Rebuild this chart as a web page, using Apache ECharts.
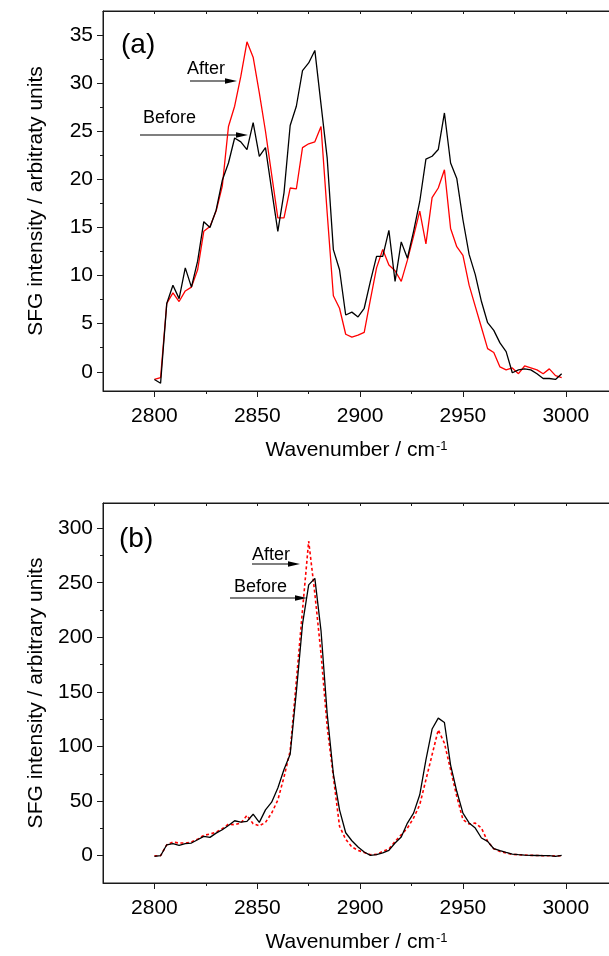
<!DOCTYPE html>
<html>
<head>
<meta charset="utf-8">
<script src="https://cdn.jsdelivr.net/npm/echarts@6/dist/echarts.min.js"></script>
<style>
  html, body { margin: 0; padding: 0; background: #fff; }
  #chart { width: 609px; height: 956px; }
</style>
</head>
<body>
<div id="chart"></div>
<script>
'use strict';

// wavenumber grid shared by all four spectra (cm-1)
var wavenumbers = [2800, 2803, 2806, 2809, 2812, 2815, 2818, 2821, 2824, 2827,
    2830, 2833, 2836, 2839, 2842, 2845, 2848, 2851, 2854, 2857,
    2860, 2863, 2866, 2869, 2872, 2875, 2878, 2881, 2884, 2887,
    2890, 2893, 2896, 2899, 2902, 2905, 2908, 2911, 2914, 2917,
    2920, 2923, 2926, 2929, 2932, 2935, 2938, 2941, 2944, 2947,
    2950, 2953, 2956, 2959, 2962, 2965, 2968, 2971, 2974, 2977,
    2980, 2983, 2986, 2989, 2992, 2995, 2998];

// panel (a) - measured spectra
var beforeA = [-0.8, -1.2, 7.1, 9.0, 7.6, 10.8, 8.8, 11.5, 15.6, 15.0,
    16.8, 19.9, 21.7, 24.3, 23.9, 23.1, 25.9, 22.4, 23.3, 18.9,
    14.6, 18.6, 25.6, 27.6, 31.3, 32.1, 33.4, 27.8, 22.2, 12.7,
    10.6, 5.9, 6.2, 5.7, 6.6, 9.4, 12.0, 12.0, 14.7, 9.4,
    13.5, 11.8, 14.6, 17.7, 22.1, 22.4, 23.1, 26.9, 21.7, 20.1,
    15.8, 12.2, 10.1, 7.3, 5.1, 4.3, 3.0, 2.1, -0.1, 0.2,
    0.3, 0.2, -0.2, -0.7, -0.7, -0.8, -0.2];
var afterA = [-0.8, -0.6, 7.1, 8.2, 7.3, 8.4, 8.8, 10.6, 14.6, 15.1,
    16.7, 19.3, 25.5, 27.6, 30.7, 34.3, 32.7, 29.0, 25.0, 20.5,
    16.0, 16.0, 19.1, 19.0, 23.3, 23.7, 23.9, 25.5, 16.5, 7.9,
    6.6, 3.9, 3.6, 3.8, 4.1, 7.5, 10.8, 12.7, 11.1, 10.5,
    9.4, 11.6, 14.1, 16.7, 13.3, 18.1, 19.1, 21.0, 14.9, 13.0,
    12.1, 9.0, 6.8, 4.6, 2.4, 2.0, 0.5, 0.2, 0.4, -0.2,
    0.6, 0.4, 0.2, -0.2, 0.3, -0.4, -0.6];

// panel (b)
var beforeB = [-0.6, 0, 10, 11, 9.5, 11, 11.6, 14.6, 17.7, 16.8,
    20.7, 23.8, 27.7, 32, 30.8, 31.4, 38, 30.5, 42, 49,
    62, 79, 93, 150, 212, 248, 254, 206, 130, 75,
    42, 21, 13.7, 8, 3.4, 0.3, 0.9, 2.5, 4.9, 11.6,
    17.1, 29.9, 39, 55.8, 87.8, 116, 126, 122, 83, 59,
    39, 30, 25.3, 16.2, 13.1, 6.4, 4.6, 3, 1.5, 1,
    0.6, 0.3, 0.2, 0, 0, -0.6, 0.3];
var afterB = [0, 0, 10, 12.5, 11.6, 11.6, 12.5, 15.2, 18.6, 19.8,
    21.6, 24.7, 28.9, 28.4, 29.9, 36.9, 29.3, 27.4, 30.5, 39,
    51, 72, 96, 160, 225, 288, 240, 185, 118, 72,
    27, 15, 8, 4.9, 3, 0.9, 1.2, 3.9, 6.1, 13.1,
    19.2, 25.3, 34.5, 46.7, 69.5, 92.4, 115.3, 103, 78.7, 54.3,
    33, 29, 29.9, 25.3, 13.1, 6.4, 3.9, 2.4, 1.2, 0.9,
    0.6, 0.3, 0.2, 0, 0, -0.3, 0];

// tick values
var xMajor = [2800, 2850, 2900, 2950, 3000];
var xMinor = [2825, 2875, 2925, 2975];
var xTop = [2800, 2825, 2850, 2875, 2900, 2925, 2950, 2975, 3000];
var yMajorA = [0, 5, 10, 15, 20, 25, 30, 35];
var yMinorA = [2.5, 7.5, 12.5, 17.5, 22.5, 27.5, 32.5];
var yMajorB = [0, 50, 100, 150, 200, 250, 300];
var yMinorB = [25, 75, 125, 175, 225, 275];

var FONT = 'Liberation Sans, Arial, sans-serif';
var AXIS_COLOR = '#1a1a1a';
var X_MIN = 2775, X_MAX = 3021.5;

function pairs(ys) {
    return wavenumbers.map(function (x, i) { return [x, ys[i]]; });
}

function plain(v) {
    return String(v);
}

function bottomAxis(grid, major) {
    var ticks = major ? xMajor : xMinor;
    return {
        type: 'value', gridIndex: grid, position: 'bottom',
        min: X_MIN, max: X_MAX,
        name: major ? 'Wavenumber / cm{s|-1}' : '',
        nameLocation: 'middle',
        nameGap: 49,
        nameTextStyle: {
            fontFamily: FONT, fontSize: 21, color: '#000',
            rich: {s: {fontFamily: FONT, fontSize: 13, color: '#000', verticalAlign: 'top', padding: [0, 0, 0, 1]}}
        },
        axisLine: {show: major, onZero: false, lineStyle: {color: AXIS_COLOR, width: 1}},
        axisTick: {show: true, customValues: ticks, length: major ? 6 : 3,
            lineStyle: {color: AXIS_COLOR, width: 1}},
        axisLabel: {show: major, customValues: ticks, formatter: plain,
            fontFamily: FONT, fontSize: 21, color: '#000', margin: 15},
        splitLine: {show: false}
    };
}

// top edge: the frame line comes from the grid border, this axis adds the inward ticks
function topAxis(grid) {
    return {
        type: 'value', gridIndex: grid, position: 'top',
        min: X_MIN, max: X_MAX,
        axisLine: {show: true, onZero: false, lineStyle: {color: AXIS_COLOR, width: 1}},
        axisTick: {show: true, inside: true, customValues: xTop, length: 3,
            lineStyle: {color: AXIS_COLOR, width: 1}},
        axisLabel: {show: true, customValues: xTop, formatter: plain, color: 'rgba(0,0,0,0)', fontSize: 8},
        splitLine: {show: false}
    };
}

function leftAxis(grid, min, max, ticks, major, name) {
    return {
        type: 'value', gridIndex: grid, position: 'left',
        min: min, max: max,
        name: major ? name : '',
        nameLocation: 'middle',
        nameGap: 56,
        nameTextStyle: {fontFamily: FONT, fontSize: 21, color: '#000'},
        axisLine: {show: major, onZero: false, lineStyle: {color: AXIS_COLOR, width: 1}},
        axisTick: {show: true, customValues: ticks, length: major ? 6 : 3,
            lineStyle: {color: AXIS_COLOR, width: 1}},
        axisLabel: {show: major, customValues: ticks, formatter: plain,
            fontFamily: FONT, fontSize: 21, color: '#000', margin: 10},
        splitLine: {show: false}
    };
}

function arrow(x1, x2, y) {
    return [
        {type: 'line', shape: {x1: x1, y1: y, x2: x2 - 10, y2: y}, style: {stroke: '#000', lineWidth: 1.2}},
        {type: 'polygon', shape: {points: [[x2, y], [x2 - 12, y - 2.8], [x2 - 12, y + 2.8]]}, style: {fill: '#000'}}
    ];
}

function label(text, x, y, size) {
    return {type: 'text', x: x, y: y,
        style: {text: text, font: size + 'px ' + FONT, fill: '#000', textVerticalAlign: 'middle'}};
}

var myChart = echarts.init(document.getElementById('chart'), null, {renderer: 'canvas'});

// the plot boxes run just past the right edge of the page, as in the cropped original
var rectA = {left: 103, top: 11, width: 507, height: 380, outerBoundsMode: 'none',
    show: true, borderColor: AXIS_COLOR, borderWidth: 1, backgroundColor: 'transparent'};
var rectB = {left: 103, top: 503, width: 507, height: 380, outerBoundsMode: 'none',
    show: true, borderColor: AXIS_COLOR, borderWidth: 1, backgroundColor: 'transparent'};
// grids 2 and 3 sit exactly on 0 and 1 and only carry the minor ticks
var minorA = {left: 103, top: 11, width: 507, height: 380, outerBoundsMode: 'none'};
var minorB = {left: 103, top: 503, width: 507, height: 380, outerBoundsMode: 'none'};

var option = {
    animation: false,
    backgroundColor: '#fff',
    grid: [rectA, rectB, minorA, minorB],
    xAxis: [
        bottomAxis(0, true), topAxis(0),
        bottomAxis(1, true), topAxis(1),
        bottomAxis(2, false), bottomAxis(3, false)
    ],
    yAxis: [
        leftAxis(0, -2, 37.5, yMajorA, true, 'SFG intensity / arbitraty units'),
        leftAxis(1, -25, 323, yMajorB, true, 'SFG intensity / arbitrary units'),
        leftAxis(2, -2, 37.5, yMinorA, false),
        leftAxis(3, -25, 323, yMinorB, false)
    ],
    series: [
        {name: 'Before (a)', type: 'line', xAxisIndex: 0, yAxisIndex: 0, data: pairs(beforeA),
            showSymbol: false, lineStyle: {color: '#000', width: 1.3}, z: 3},
        {name: 'After (a)', type: 'line', xAxisIndex: 0, yAxisIndex: 0, data: pairs(afterA),
            showSymbol: false, lineStyle: {color: '#ff0000', width: 1.3}, z: 2},
        {name: 'Before (b)', type: 'line', xAxisIndex: 2, yAxisIndex: 1, data: pairs(beforeB),
            showSymbol: false, lineStyle: {color: '#000', width: 1.3}, z: 3},
        {name: 'After (b)', type: 'line', xAxisIndex: 2, yAxisIndex: 1, data: pairs(afterB),
            showSymbol: false, lineStyle: {color: '#ff0000', width: 1.6, type: [3, 2.5]}, z: 2}
    ],
    graphic: [
        label('(a)', 121, 45, 28),
        label('(b)', 119, 539, 28),
        label('After', 187, 69, 18),
        label('Before', 143, 118, 18),
        label('After', 252, 555, 18),
        label('Before', 234, 587, 18)
    ].concat(arrow(190, 237, 81), arrow(140, 248, 135), arrow(252, 300, 564), arrow(230, 307, 598))
};

myChart.setOption(option);
window.onresize = function () {
    myChart.resize();
};
</script>
</body>
</html>
